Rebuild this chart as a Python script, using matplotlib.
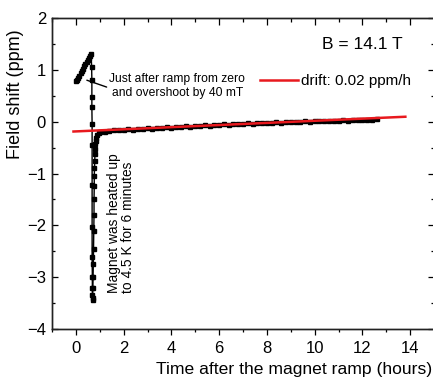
import matplotlib
matplotlib.use("Agg")
import matplotlib.pyplot as plt
from matplotlib.ticker import MultipleLocator

plt.rcParams['font.family'] = ['Liberation Sans', 'DejaVu Sans']

# ramp up to field (hours, ppm)
ramp_t = [0.00, 0.05, 0.10, 0.15, 0.20, 0.25, 0.30, 0.35, 0.40, 0.45, 0.50, 0.55, 0.60, 0.64]
ramp_v = [0.78, 0.80, 0.84, 0.89, 0.93, 0.98, 1.02, 1.07, 1.11, 1.15, 1.19, 1.23, 1.27, 1.30]

# heating: fast drop and recovery
heat_t = [0.66, 0.67, 0.67, 0.67, 0.68, 0.68, 0.68, 0.68, 0.68, 0.69, 0.69, 0.69, 0.70, 0.70,
          0.71, 0.72, 0.73, 0.74, 0.75, 0.76, 0.76, 0.77, 0.77, 0.78, 0.79, 0.80, 0.81,
          0.82, 0.84, 0.86, 0.90, 0.95]
heat_v = [1.05, 0.80, 0.47, 0.28, -0.05, -0.45, -1.22, -2.03, -2.61, -3.00, -3.20, -3.35, -3.45, -3.40,
          -3.20, -3.00, -2.75, -2.45, -2.10, -1.80, -1.50, -1.25, -1.05, -0.90, -0.75, -0.62, -0.52,
          -0.44, -0.37, -0.31, -0.26, -0.22]

# slow drift afterwards
tail_t = [1.0, 1.2, 1.4, 1.6, 1.8, 2.0, 2.2, 2.4, 2.6, 2.8, 3.0, 3.2, 3.4, 3.6, 3.8,
          4.0, 4.2, 4.4, 4.6, 4.8, 5.0, 5.2, 5.4, 5.6, 5.8, 6.0, 6.2, 6.4, 6.6, 6.8,
          7.0, 7.2, 7.4, 7.6, 7.8, 8.0, 8.2, 8.4, 8.6, 8.8, 9.0, 9.2, 9.4, 9.6, 9.8,
          10.0, 10.2, 10.4, 10.6, 10.8, 11.0, 11.2, 11.4, 11.6, 11.8, 12.0, 12.2, 12.4, 12.6]
tail_v = [-0.20, -0.19, -0.18, -0.17, -0.17, -0.16, -0.15, -0.16, -0.14, -0.15, -0.13, -0.14, -0.12, -0.13, -0.11,
          -0.12, -0.10, -0.11, -0.09, -0.10, -0.08, -0.09, -0.07, -0.08, -0.06, -0.06, -0.05, -0.06, -0.04, -0.05,
          -0.04, -0.03, -0.04, -0.03, -0.02, -0.03, -0.02, -0.01, -0.02, -0.01, 0.00, -0.01, 0.00, 0.01, 0.00,
          0.01, 0.02, 0.01, 0.02, 0.01, 0.02, 0.03, 0.02, 0.03, 0.04, 0.03, 0.04, 0.04, 0.05]

# linear drift fit
fit_t = [-0.1, 13.8]
fit_v = [-0.19, 0.095]

t = ramp_t + heat_t + tail_t
v = ramp_v + heat_v + tail_v

fig = plt.figure(figsize=(4.33, 3.78), dpi=100)
ax = fig.add_axes([52 / 433, 1 - 329 / 378, 382 / 433, 311 / 378])

ax.plot(t, v, color='black', lw=1.0, marker='s', ms=2.4, mec='black', mfc='black')
ax.plot(fit_t, fit_v, color='#e8191e', lw=1.8, label='drift: 0.02 ppm/h')

ax.set_xlim(-1, 15)
ax.set_ylim(-4, 2)
ax.xaxis.set_major_locator(MultipleLocator(2))
ax.xaxis.set_minor_locator(MultipleLocator(1))
ax.yaxis.set_major_locator(MultipleLocator(1))
ax.yaxis.set_minor_locator(MultipleLocator(0.5))

ax.tick_params(axis='x', which='both', direction='out', top=False, labelsize=12, pad=4.3, width=0.9)
ax.tick_params(axis='x', which='major', length=4.3)
ax.tick_params(axis='x', which='minor', length=2.5)
ax.tick_params(axis='y', which='both', direction='in', right=True, labelsize=12, pad=4.3, width=0.9)
ax.tick_params(axis='y', which='major', length=4.3)
ax.tick_params(axis='y', which='minor', length=2.5)

# top axis ticks pointing in
top = ax.twiny()
top.set_xlim(ax.get_xlim())
top.xaxis.set_major_locator(MultipleLocator(2))
top.xaxis.set_minor_locator(MultipleLocator(1))
top.tick_params(axis='x', which='both', direction='in', labeltop=False, width=0.9)
top.tick_params(axis='x', which='major', length=4.8)
top.tick_params(axis='x', which='minor', length=2.8)

for a in (ax, top):
    for s in a.spines.values():
        s.set_linewidth(1.0)
        s.set_color('#222222')

ax.set_xlabel('Time after the magnet ramp (hours)', fontsize=12.6)
ax.xaxis.set_label_coords(0.635, -0.105)
ax.set_ylabel('Field shift (ppm)', fontsize=13)
ax.yaxis.set_label_coords(-0.072, 0.755)

ax.text(0.919, 0.915, 'B = 14.1 T', transform=ax.transAxes, fontsize=12.5,
        ha='right', va='center')

ax.legend(loc='center left', bbox_to_anchor=(0.545, 0.797), frameon=False,
          fontsize=11, borderpad=0, borderaxespad=0, handlelength=2.5, handletextpad=0.2)

ax.annotate('Just after ramp from zero\nand overshoot by 40 mT', xy=(0.46, 0.80),
            xytext=(4.25, 0.69), fontsize=8.7, ha='center', va='center',
            linespacing=1.3,
            arrowprops=dict(arrowstyle='-', color='black', lw=1.0, shrinkA=0, shrinkB=0,
                            relpos=(0.0, 0.42)))

ax.text(1.9, -3.3, 'Magnet was heated up\nto 4.5 K for 6 minutes', rotation=90,
        fontsize=9.9, ha='center', va='bottom', multialignment='left', linespacing=1.0)

fig.savefig('out.png', dpi=100)
